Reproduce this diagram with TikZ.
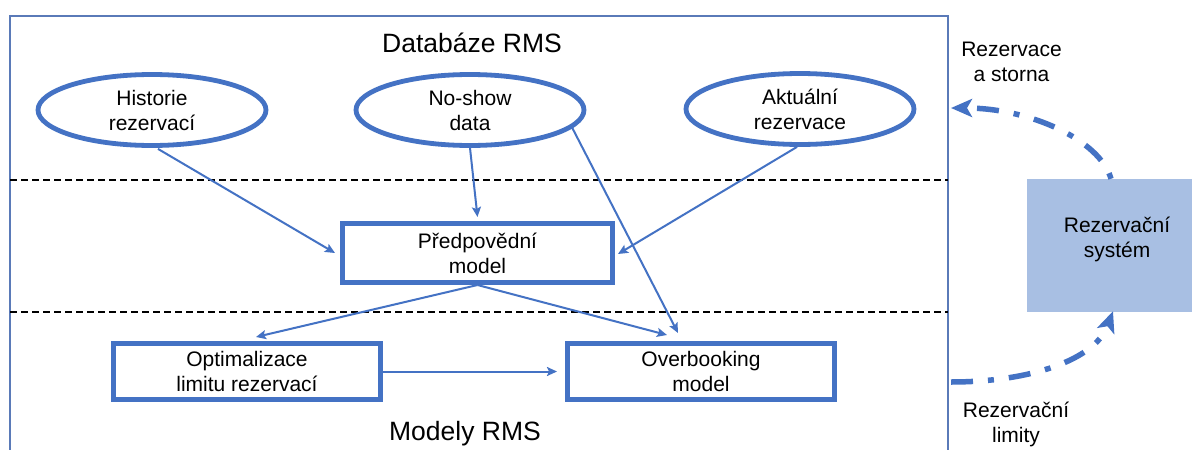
\documentclass[tikz,border=0pt]{standalone}
\usepackage{fontspec}
\setmainfont{Liberation Sans}
\usetikzlibrary{shapes.geometric,arrows.meta,calc}
\definecolor{rmsblue}{HTML}{4472C4}
\definecolor{rmsframe}{HTML}{5A7AB8}
\definecolor{rmsfill}{HTML}{A8BFE3}
\newcommand{\nodefont}{\fontsize{21}{25}\selectfont}
\newcommand{\titlefont}{\fontsize{26.5}{30}\selectfont}
\tikzset{
  oval/.style={ellipse, draw=rmsblue, line width=4.8pt, minimum width=228pt,
    minimum height=71pt, inner sep=0pt, align=center, font=\nodefont},
  modelbox/.style={rectangle, draw=rmsblue, line width=5.2pt, minimum width=266.8pt,
    minimum height=55.8pt, inner sep=0pt, align=center, font=\nodefont},
  label/.style={align=center, font=\nodefont, inner sep=0pt},
  heading/.style={font=\titlefont, inner sep=0pt, anchor=base},
  link/.style={draw=rmsblue, line width=2pt, -{Stealth[length=10pt,width=9pt,inset=2pt]}},
  flow/.style={draw=rmsblue, line width=5.5pt, dash pattern=on 22pt off 15pt on 6pt off 15pt,
    -{Stealth[length=21pt,width=18pt,inset=5pt]}},
  separator/.style={draw=black, line width=1.1pt, dash pattern=on 6.5pt off 4.5pt},
  frameline/.style={draw=rmsframe, line width=1.8pt}
}
\begin{document}
\begin{tikzpicture}[x=1pt,y=-1pt]
\useasboundingbox (0,0) rectangle (1192,450);
\fill[white] (0,0) rectangle (1192,450);

% RMS frame and layer separators
\draw[frameline] (10,16) rectangle (948,480);
\draw[separator] (10,180) -- (948,180);
\draw[separator] (10,312) -- (948,312);

% headings
\node[heading] (dbtitle) at (472,52) {Databáze RMS};
\node[heading] (mtitle) at (465,440) {Modely RMS};

% data sources
\node[oval] (hist) at (152,110) {Historie\\rezervací};
\node[oval] (ns) at (470,110) {No-show\\data};
\node[oval] (akt) at (800,109) {Aktuální\\rezervace};

% models
\node[modelbox, minimum width=269.8pt, minimum height=58.8pt] (pred) at (477.5,253) {Předpovědní\\model};
\node[modelbox] (opt) at (247,371.5) {Optimalizace\\limitu rezervací};
\node[modelbox] (ob) at (701,371.5) {Overbooking\\model};

% reservation system
\node[rectangle, fill=rmsfill, minimum width=180pt, minimum height=133pt, inner sep=0pt] (sys) at (1117,245.5) {};
\node[label] (syslabel) at (1117,239.7) {Rezervační\\systém};

% flow labels
\node[label] (inlabel) at (1011.5,62) {Rezervace\\a storna};
\node[label] (outlabel) at (1016,424.7) {Rezervační\\limity};

% internal connectors
\draw[link] ($(hist.south)+(6,1)$) -- ($(pred.west)+(-5,0)$);
\draw[link] (ns.south) -- ($(pred.north)+(0,-4)$);
\draw[link] ($(akt.south)+(-3,0)$) -- ($(pred.east)+(3,1)$);
\draw[link] (ns.-10) -- ($(ob.north)+(-23,-8)$);
\draw[link] (pred.south) -- ($(opt.north)+(9,-4)$);
\draw[link] (pred.south) -- ($(ob.north)+(-34,-6)$);
\draw[link] (opt.east) -- ($(ob.west)+(-8,0)$);

% exchange with the reservation system
\coordinate (inA) at (951,108);
\coordinate (outB) at (951,382);
\draw[flow, dash phase=37pt] ($(sys.north)+(-6,0)$) .. controls (1100,140) and (1030,108) .. (inA);
\draw[flow] (outB) .. controls (1030,382) and (1095,360) .. ($(sys.south)+(-4,-1)$);
\end{tikzpicture}
\end{document}
